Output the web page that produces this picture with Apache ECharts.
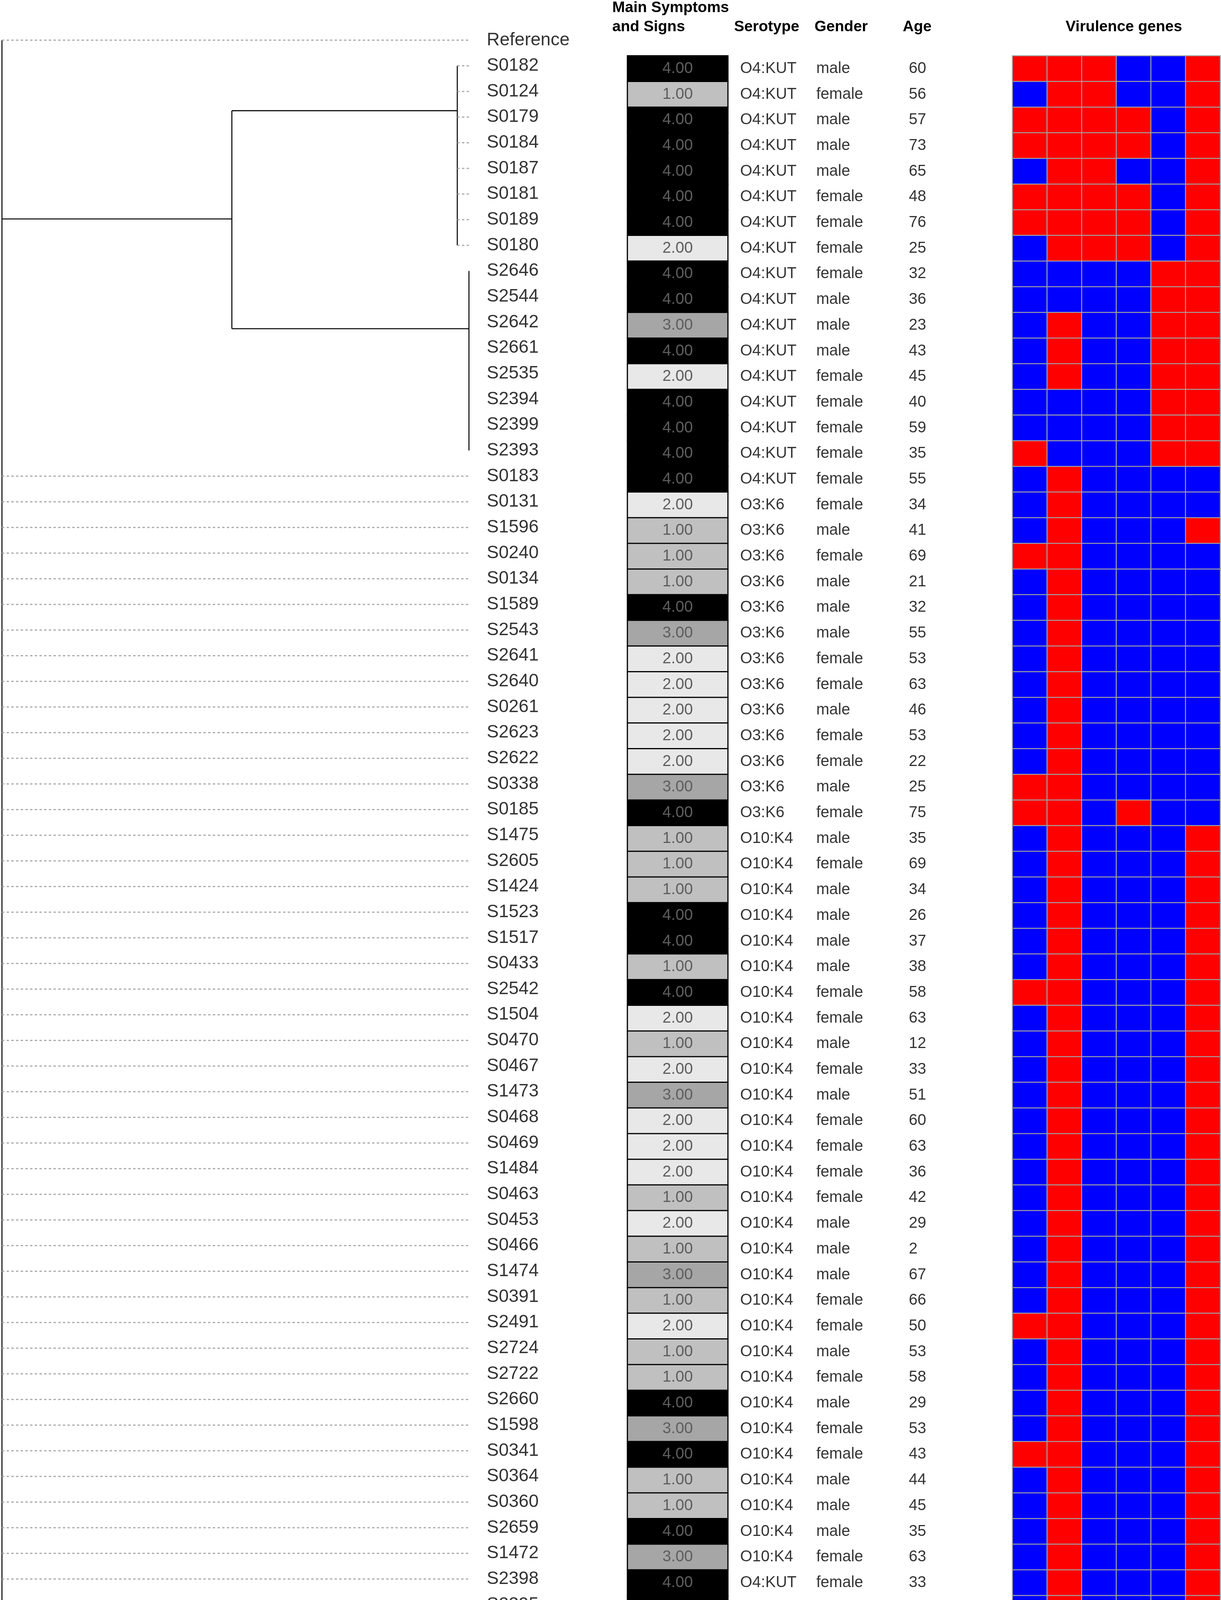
<!DOCTYPE html>
<html><head><meta charset="utf-8">
<script src="https://cdn.jsdelivr.net/npm/echarts@6/dist/echarts.min.js"></script>
<style>html,body{margin:0;padding:0;background:#fff}#c{width:3127px;height:4862px}</style>
</head><body><div id="c"></div>
<script>
// ---------------- DATA ----------------
const sampleNames = ['Reference','S0182','S0124','S0179','S0184','S0187','S0181','S0189','S0180','S2646','S2544','S2642','S2661','S2535','S2394','S2399','S2393','S0183','S0131','S1596','S0240','S0134','S1589','S2543','S2641','S2640','S0261','S2623','S2622','S0338','S0185','S1475','S2605','S1424','S1523','S1517','S0433','S2542','S1504','S0470','S0467','S1473','S0468','S0469','S1484','S0463','S0453','S0466','S1474','S0391','S2491','S2724','S2722','S2660','S1598','S0341','S0364','S0360','S2659','S1472','S2398','S2395','S2619','S2585','S2592','S2588','S2591','S2589','S2590','S2584'];

const symptomScores = [4,1,4,4,4,4,4,2, 4,4,3,4,2,4,4,4, 4,2,1,1,1,4,3,2,2,2,2,2,3,4, 1,1,1,4,4,1,4,2,1,2,3,2,2,2,1,2,1,3,1,2,1,1,4,3,4,1,1,4,3, 4,4, 1,2,1,1,2,2,1,2];

const serotypes = ['O4:KUT','O4:KUT','O4:KUT','O4:KUT','O4:KUT','O4:KUT','O4:KUT','O4:KUT','O4:KUT','O4:KUT','O4:KUT','O4:KUT','O4:KUT','O4:KUT','O4:KUT','O4:KUT','O4:KUT',
'O3:K6','O3:K6','O3:K6','O3:K6','O3:K6','O3:K6','O3:K6','O3:K6','O3:K6','O3:K6','O3:K6','O3:K6','O3:K6',
'O10:K4','O10:K4','O10:K4','O10:K4','O10:K4','O10:K4','O10:K4','O10:K4','O10:K4','O10:K4','O10:K4','O10:K4','O10:K4','O10:K4','O10:K4','O10:K4','O10:K4','O10:K4','O10:K4','O10:K4','O10:K4','O10:K4','O10:K4','O10:K4','O10:K4','O10:K4','O10:K4','O10:K4','O10:K4',
'O4:KUT','O4:KUT',
'O10:K4','O10:K4','O10:K4','O10:K4','O10:K4','O10:K4','O10:K4','O10:K4'];

const genders = ['male','female','male','male','male','female','female','female','female','male','male','male','female','female','female','female','female','female','male','female','male','male','male','female','female','male','female','female','male','female','male','female','male','male','male','male','female','female','male','female','male','female','female','female','female','male','male','male','female','female','male','female','male','female','female','male','male','male','female','female','female','female','not known','female','female','female','male','female','not known'];

const ages = ['60','56','57','73','65','48','76','25','32','36','23','43','45','40','59','35','55','34','41','69','21','32','55','53','63','46','53','22','25','75','35','69','34','26','37','38','58','63','12','33','51','60','63','36','42','29','2','67','66','50','53','58','29','53','43','44','45','35','63','33','65','69','not known','75','53','52','21','39','not known'];

const geneNames = ['tcpA','pilA','wbfU','wbfY','wecA','wcaG'];
const tcpA = [1,0,1,1,0,1,1,0, 0,0,0,0,0,0,0,1, 0,0,0,1,0,0,0,0,0,0,0,0,1,1, 0,0,0,0,0,0,1,0,0,0,0,0,0,0,0,0,0,0,0,1,0,0,0,0,1,0,0,0,0,0,0,1,0,1,0,0,0,0,0];
const pilA = [1,1,1,1,1,1,1,1, 0,0,1,1,1,0,0,0, 1,1,1,1,1,1,1,1,1,1,1,1,1,1, 1,1,1,1,1,1,1,1,1,1,1,1,1,1,1,1,1,1,1,1,1,1,1,1,1,1,1,1,1,1,1,1,1,1,1,1,1,1,1];
const wbfU = [1,1,1,1,1,1,1,1, 0,0,0,0,0,0,0,0, 0,0,0,0,0,0,0,0,0,0,0,0,0,0, 0,0,0,0,0,0,0,0,0,0,0,0,0,0,0,0,0,0,0,0,0,0,0,0,0,0,0,0,0,0,0,0,0,0,0,0,0,0,0];
const wbfY = [0,0,1,1,0,1,1,1, 0,0,0,0,0,0,0,0, 0,0,0,0,0,0,0,0,0,0,0,0,0,1, 0,0,0,0,0,0,0,0,0,0,0,0,0,0,0,0,0,0,0,0,0,0,0,0,0,0,0,0,0,0,0,0,0,0,0,0,0,0,0];
const wecA = [0,0,0,0,0,0,0,0, 1,1,1,1,1,1,1,1, 0,0,0,0,0,0,0,0,0,0,0,0,0,0, 0,0,0,0,0,0,0,0,0,0,0,0,0,0,0,0,0,0,0,0,0,0,0,0,0,0,0,0,0,0,0,0,0,0,0,0,0,0,0];
const wcaG = [1,1,1,1,1,1,1,1, 1,1,1,1,1,1,1,1, 0,0,1,0,0,0,0,0,0,0,0,0,0,0, 1,1,1,1,1,1,1,1,1,1,1,1,1,1,1,1,1,1,1,1,1,1,1,1,1,1,1,1,1,1,1,1,1,1,1,1,1,1,1];
const geneMatrix = [tcpA, pilA, wbfU, wbfY, wecA, wcaG];

// Tree topology: internal nodes (branch length in substitutions/site, row position)
const treeNodes = [
  { id: 'root', parent: null, length: 0,       row: null },
  { id: 'A',    parent: 'root', length: 0.0128,  row: 6.97 },
  { id: 'B',    parent: 'A',    length: 0.01255, row: 2.75 },
  { id: 'C',    parent: 'A',    length: 0.0132,  row: 11.25 }
];
const cladeB = ['S0182','S0124','S0179','S0184','S0187','S0181','S0189','S0180'];
const cladeC = ['S2646','S2544','S2642','S2661','S2535','S2394','S2399','S2393'];
const scaleBarStart = 0.0096;
const scaleBarLength = 0.01;

// ---------------- BUILD ----------------
const FONT = 'Liberation Sans, Arial, Helvetica, sans-serif';
const nodeById = {};
treeNodes.forEach(n => nodeById[n.id] = n);
treeNodes.forEach(n => { n.x = n.parent ? nodeById[n.parent].x + n.length : 0; });
const leafParent = name => cladeB.includes(name) ? 'B' : (cladeC.includes(name) ? 'C' : 'root');
const alignX = Math.max(...treeNodes.map(n => n.x));

const treeEdges = [];
treeNodes.forEach(n => {
  if (n.parent) treeEdges.push([nodeById[n.parent].x, n.row, n.x, n.row, 0]);
  const childRows = treeNodes.filter(c => c.parent === n.id).map(c => c.row)
    .concat(sampleNames.map((s, i) => leafParent(s) === n.id ? i : null).filter(v => v !== null));
  treeEdges.push([n.x, Math.min(...childRows), n.x, Math.max(...childRows), 0]);
});
sampleNames.forEach((s, i) => {
  const px = nodeById[leafParent(s)].x;
  if (px < alignX - 1e-9) treeEdges.push([px, i, alignX, i, 1]);
});

const rowsData = sampleNames.slice(1);
const nameLabelData = sampleNames.map((s, i) => [alignX, i, s]);
const symptomData = symptomScores.map((v, i) => [0, i, v]);
const geneData = [];
geneMatrix.forEach((arr, g) => arr.forEach((v, i) => geneData.push([g, i, v])));
const textCol = arr => arr.map((v, i) => [0, i, v]);

const HM_TOP = 143, HM_H = 4533;
const hidden = { show: false };
function catY(idx) { return { type: 'category', data: rowsData, inverse: true, gridIndex: idx, axisLine: hidden, axisTick: hidden, axisLabel: hidden, splitLine: hidden }; }
function valX(idx) { return { type: 'value', min: 0, max: 1, gridIndex: idx, axisLine: hidden, axisTick: hidden, axisLabel: hidden, splitLine: hidden }; }

const chart = echarts.init(document.getElementById('c'), null, { renderer: 'canvas' });
const option = {
  animation: false,
  backgroundColor: '#ffffff',
  grid: [
    { left: 5, top: 70, width: 1196, height: 4596 },
    { left: 1607, top: HM_TOP, width: 257, height: HM_H },
    { left: 1895, top: HM_TOP, width: 150, height: HM_H },
    { left: 2090, top: HM_TOP, width: 200, height: HM_H },
    { left: 2327, top: HM_TOP, width: 200, height: HM_H },
    { left: 2593, top: HM_TOP, width: 532, height: HM_H }
  ],
  xAxis: [
    { type: 'value', min: 0, max: 0.026, gridIndex: 0, axisLine: hidden, axisTick: hidden, axisLabel: hidden, splitLine: hidden },
    { type: 'category', data: ['Main Symptoms and Signs'], gridIndex: 1, axisLine: hidden, axisTick: hidden, axisLabel: hidden, splitLine: hidden },
    valX(2), valX(3), valX(4),
    { type: 'category', data: geneNames, gridIndex: 5, position: 'bottom', axisLine: hidden, axisTick: hidden, splitLine: hidden,
      axisLabel: { show: true, rotate: -90, margin: 10, fontSize: 44, fontStyle: 'italic', fontFamily: FONT, color: '#000' } }
  ],
  yAxis: [
    { type: 'value', min: -0.5, max: 69.5, inverse: true, gridIndex: 0, axisLine: hidden, axisTick: hidden, axisLabel: hidden, splitLine: hidden },
    catY(1), catY(2), catY(3), catY(4), catY(5)
  ],
  visualMap: [
    { type: 'piecewise', show: false, seriesIndex: 3, dimension: 2,
      pieces: [{ value: 1, color: '#c0c0c0' }, { value: 2, color: '#e8e8e8' }, { value: 3, color: '#a6a6a6' }, { value: 4, color: '#000000' }] },
    { type: 'piecewise', show: false, seriesIndex: 7, dimension: 2,
      pieces: [{ value: 0, color: '#0000ff' }, { value: 1, color: '#ff0000' }] }
  ],
  series: [
    { type: 'custom', xAxisIndex: 0, yAxisIndex: 0, data: treeEdges, clip: false,
      encode: { x: [0, 2], y: [1, 3] },
      renderItem: (params, api) => {
        const p1 = api.coord([api.value(0), api.value(1)]);
        const p2 = api.coord([api.value(2), api.value(3)]);
        const dashed = api.value(4) === 1;
        return { type: 'line', shape: { x1: p1[0], y1: p1[1], x2: p2[0], y2: p2[1] },
          style: { stroke: dashed ? '#a8a8a8' : '#000', lineWidth: dashed ? 3 : 2.6, lineDash: dashed ? [6, 6] : null } };
      } },
    { type: 'custom', xAxisIndex: 0, yAxisIndex: 0, data: [[scaleBarStart, 72.1, scaleBarLength]], clip: false,
      renderItem: (params, api) => {
        const a = api.coord([api.value(0), api.value(1)]);
        const b = api.coord([api.value(0) + api.value(2), api.value(1)]);
        const m = api.coord([api.value(0) + api.value(2) / 2, api.value(1)]);
        const st = { stroke: '#000', lineWidth: 3.5 };
        return { type: 'group', children: [
          { type: 'line', shape: { x1: a[0], y1: a[1], x2: b[0], y2: b[1] }, style: st },
          { type: 'line', shape: { x1: a[0], y1: a[1] - 21, x2: a[0], y2: a[1] + 21 }, style: { stroke: '#000', lineWidth: 3 } },
          { type: 'line', shape: { x1: b[0], y1: b[1] - 21, x2: b[0], y2: b[1] + 21 }, style: { stroke: '#000', lineWidth: 3 } },
          { type: 'line', shape: { x1: m[0], y1: m[1], x2: m[0], y2: m[1] + 14 }, style: { stroke: '#000', lineWidth: 3 } },
          { type: 'text', style: { text: 'Tree scale: ' + api.value(2), x: a[0] - 22, y: a[1], align: 'right', verticalAlign: 'middle', fontSize: 37, fontFamily: FONT, fill: '#000' } }
        ] };
      } },
    { type: 'scatter', xAxisIndex: 0, yAxisIndex: 0, data: nameLabelData, symbolSize: 1,
      itemStyle: { color: 'rgba(0,0,0,0)' },
      label: { show: true, position: 'right', distance: 45, fontSize: 46, fontFamily: FONT, color: '#000', formatter: p => p.value[2] } },
    { type: 'heatmap', xAxisIndex: 1, yAxisIndex: 1, data: symptomData,
      itemStyle: { borderColor: '#000', borderWidth: 3 },
      label: { show: true, fontSize: 40, fontFamily: FONT, color: '#5e5e5e', formatter: p => p.value[2].toFixed(2) },
      emphasis: { disabled: true } },
    { type: 'scatter', xAxisIndex: 2, yAxisIndex: 2, data: textCol(serotypes), symbolSize: 1, itemStyle: { color: 'rgba(0,0,0,0)' },
      label: { show: true, position: 'right', distance: 0, fontSize: 40, fontFamily: FONT, color: '#000', formatter: p => p.value[2] } },
    { type: 'scatter', xAxisIndex: 3, yAxisIndex: 3, data: textCol(genders), symbolSize: 1, itemStyle: { color: 'rgba(0,0,0,0)' },
      label: { show: true, position: 'right', distance: 0, fontSize: 40, fontFamily: FONT, color: '#000', formatter: p => p.value[2] } },
    { type: 'scatter', xAxisIndex: 4, yAxisIndex: 4, data: textCol(ages), symbolSize: 1, itemStyle: { color: 'rgba(0,0,0,0)' },
      label: { show: true, position: 'right', distance: 0, fontSize: 40, fontFamily: FONT, color: '#000', formatter: p => p.value[2] } },
    { type: 'heatmap', xAxisIndex: 5, yAxisIndex: 5, data: geneData,
      itemStyle: { borderColor: '#a0a0a0', borderWidth: 2.5 },
      emphasis: { disabled: true } }
  ],
  graphic: [
    { type: 'text', x: 1568, y: 20, style: { text: 'Main Symptoms', fontSize: 39, fontWeight: 'bold', fontFamily: FONT, fill: '#000', verticalAlign: 'middle' } },
    { type: 'text', x: 1568, y: 69, style: { text: 'and Signs', fontSize: 39, fontWeight: 'bold', fontFamily: FONT, fill: '#000', verticalAlign: 'middle' } },
    { type: 'text', x: 1880, y: 69, style: { text: 'Serotype', fontSize: 39, fontWeight: 'bold', fontFamily: FONT, fill: '#000', verticalAlign: 'middle' } },
    { type: 'text', x: 2086, y: 69, style: { text: 'Gender', fontSize: 39, fontWeight: 'bold', fontFamily: FONT, fill: '#000', verticalAlign: 'middle' } },
    { type: 'text', x: 2312, y: 69, style: { text: 'Age', fontSize: 39, fontWeight: 'bold', fontFamily: FONT, fill: '#000', verticalAlign: 'middle' } },
    { type: 'text', x: 2729, y: 69, style: { text: 'Virulence genes', fontSize: 39, fontWeight: 'bold', fontFamily: FONT, fill: '#000', verticalAlign: 'middle' } }
  ]
};
chart.setOption(option);
</script>
</body></html>
